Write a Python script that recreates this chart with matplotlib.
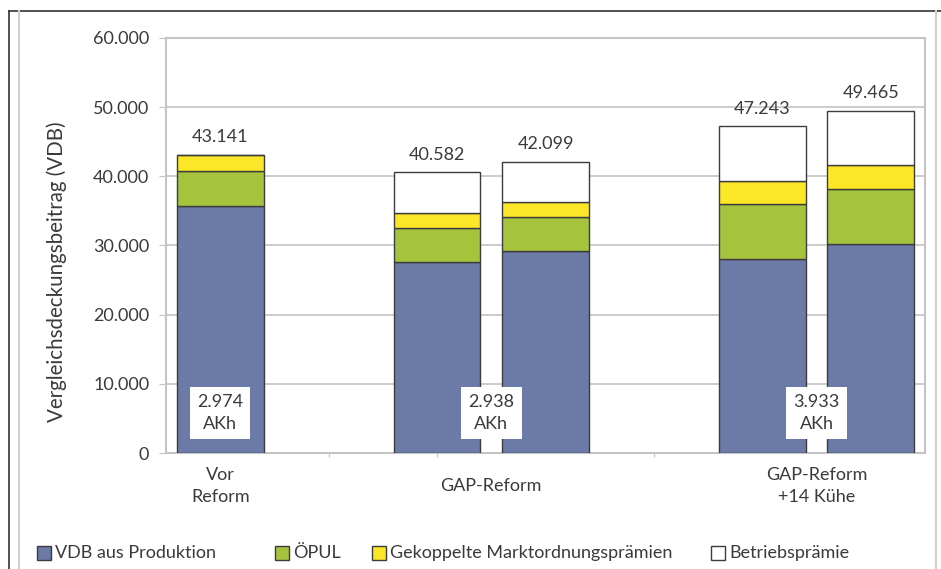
import numpy as np
import matplotlib.pyplot as plt
from matplotlib.lines import Line2D
from matplotlib.patches import Rectangle
import matplotlib.transforms as mtransforms

plt.rcParams['font.family'] = ['Lato', 'DejaVu Sans']
plt.rcParams['font.size'] = 13

# bar data (Euro per farm)
bar_slots = [0, 2, 3, 5, 6]
vdb_produktion = [35700, 27600, 29200, 28100, 30200]
oepul = [5050, 4980, 4870, 7950, 8010]
gekoppelt = [2391, 2170, 2170, 3330, 3370]
totals = [43141, 40582, 42099, 47243, 49465]
betriebspraemie = [t - a - b - c for t, a, b, c in zip(totals, vdb_produktion, oepul, gekoppelt)]

groups = ["Vor\nReform", "GAP-Reform", "GAP-Reform\n+14 Kühe"]
group_pos = [0, 2.5, 5.5]
akh = ["2.974\nAKh", "2.938\nAKh", "3.933\nAKh"]

series_names = ["VDB aus Produktion", "ÖPUL", "Gekoppelte Marktordnungsprämien", "Betriebsprämie"]
colors = ["#6b7aa6", "#a5c33c", "#fce628", "#ffffff"]
text_col = "#3a3a3a"
grid_col = "#c4c4c4"

W, H = 941, 569


def de_fmt(v):
    return f"{int(v):,}".replace(",", ".")


fig = plt.figure(figsize=(W / 100, H / 100), dpi=100)
ax = fig.add_axes([166 / W, 1 - 453 / H, 759 / W, 415 / H])

bottom = np.zeros(len(bar_slots))
for vals, col in zip([vdb_produktion, oepul, gekoppelt, betriebspraemie], colors):
    vals = np.array(vals, dtype=float)
    ax.bar(bar_slots, vals, bottom=bottom, width=0.8, color=col,
           edgecolor="#3c3c3c", linewidth=1.0, zorder=3)
    bottom += vals

for x, t in zip(bar_slots, totals):
    ax.annotate(de_fmt(t), (x, t), xytext=(0, 9), textcoords="offset points",
                ha="center", va="baseline", color=text_col, fontsize=13)

for x, s in zip(group_pos, akh):
    ax.text(x, 5780, s, ha="center", va="center", color=text_col, fontsize=13,
            linespacing=1.45, zorder=5,
            bbox=dict(boxstyle="square,pad=0.4", fc="white", ec="none"))

trans = mtransforms.blended_transform_factory(ax.transData, ax.transAxes)
for x, g in zip(group_pos, groups):
    ax.text(x, -0.08, g, transform=trans, ha="center", va="center",
            color=text_col, fontsize=13, linespacing=1.45)

ax.set_xlim(-0.5, 6.5)
ax.set_ylim(0, 60000)
ax.set_yticks(np.arange(0, 60001, 10000))
ax.set_yticklabels([de_fmt(v) for v in np.arange(0, 60001, 10000)])
ax.set_xticks([1, 2, 4])
ax.set_xticklabels([])
ax.tick_params(axis="x", length=3, color=grid_col)
ax.tick_params(axis="y", length=5, pad=7, color=grid_col, labelcolor=text_col, labelsize=13)
ax.yaxis.grid(True, color=grid_col, linewidth=1.2, zorder=0)
ax.set_axisbelow(True)
for sp in ax.spines.values():
    sp.set_color(grid_col)
    sp.set_linewidth(1.5)

fig.text(57 / W, 1 - 272 / H, "Vergleichsdeckungsbeitrag (VDB)", rotation=90,
         ha="center", va="center", color=text_col, fontsize=14.8)

# legend row at the bottom, drawn by hand
legend_x = [37, 275, 372, 711]
box = 14
for lx, name, col in zip(legend_x, series_names, colors):
    fig.add_artist(Rectangle((lx / W, (H - 553 - box / 2) / H), box / W, box / H,
                             transform=fig.transFigure, facecolor=col,
                             edgecolor="#3c3c3c", linewidth=1.0))
    fig.text((lx + box + 4) / W, 1 - 553 / H, name, ha="left", va="center",
             color=text_col, fontsize=13)

# outer frame lines
fig.add_artist(Line2D([9 / W, 1], [1 - 11 / H] * 2, color="#333333", lw=1.2))
fig.add_artist(Line2D([9 / W] * 2, [0, 1 - 11 / H], color="#333333", lw=1.2))
fig.add_artist(Line2D([19 / W] * 2, [0, 1 - 11 / H], color="#d0d0d0", lw=1.5))
fig.add_artist(Line2D([936 / W] * 2, [0, 1 - 11 / H], color="#d0d0d0", lw=1.5))

fig.savefig("out.png", dpi=100)
